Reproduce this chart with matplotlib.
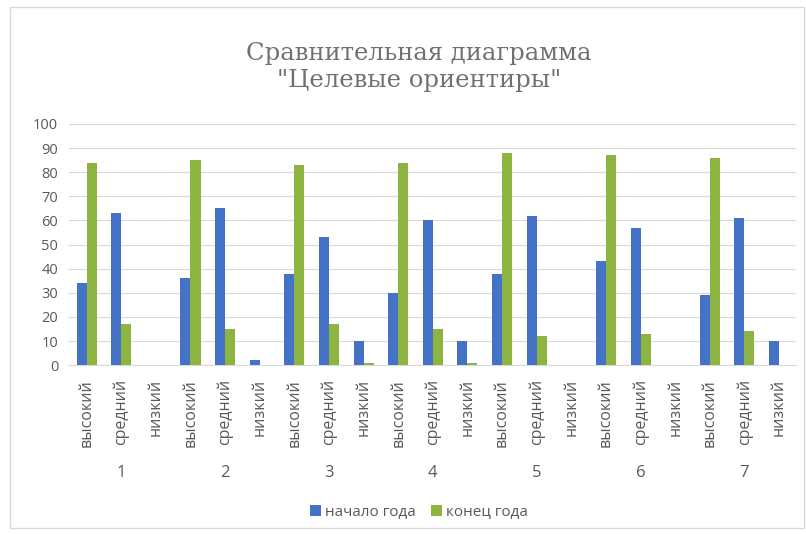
import matplotlib
matplotlib.use("Agg")
import matplotlib.pyplot as plt
import numpy as np

plt.rcParams["font.family"] = ["Open Sans", "DejaVu Sans"]

groups = ["1", "2", "3", "4", "5", "6", "7"]
levels = ["высокий", "средний", "низкий"]
start_year = [34, 63, 0, 36, 65, 2, 38, 53, 10, 30, 60, 10, 38, 62, 0, 43, 57, 0, 29, 61, 10]
end_year = [84, 17, 0, 85, 15, 0, 83, 17, 1, 84, 15, 1, 88, 12, 0, 87, 13, 0, 86, 14, 0]

BLUE = "#4472C4"
GREEN = "#8DB440"
TXT = "#595959"

fig = plt.figure(figsize=(8.06, 5.34), dpi=100)
ax = fig.add_axes([0.086, 0.316, 0.902, 0.452])

n = len(start_year)
x = np.arange(n)
w = 0.29
ax.bar(x - w / 2, start_year, w, color=BLUE, label="начало года", zorder=3)
ax.bar(x + w / 2, end_year, w, color=GREEN, label="конец года", zorder=3)

ax.set_xlim(-0.5, n - 0.5)
ax.set_ylim(0, 100)
ax.set_yticks(range(0, 101, 10))
ax.grid(axis="y", color="#d9d9d9", linewidth=0.8, zorder=0)
for s in ax.spines.values():
    s.set_visible(False)
ax.spines["bottom"].set_visible(True)
ax.spines["bottom"].set_color("#d9d9d9")
ax.tick_params(axis="y", length=0, labelsize=10.5, colors=TXT, pad=8)
ax.tick_params(axis="x", length=0, labelsize=11.5, colors=TXT, pad=10)

ax.set_xticks(x)
ax.set_xticklabels(levels * len(groups), rotation=90)

for i, g in enumerate(groups):
    ax.text(i * 3 + 1, -44.5, g, ha="center", va="center", fontsize=12,
            color=TXT, transform=ax.transData, clip_on=False)

fig.text(0.52, 0.90, "Сравнительная диаграмма", ha="center", va="center",
         fontsize=17.5, color="#707070", family="DejaVu Serif")
fig.text(0.52, 0.849, "\"Целевые ориентиры\"", ha="center", va="center",
         fontsize=17.5, color="#707070", family="DejaVu Serif")

leg = fig.legend(loc="center", bbox_to_anchor=(0.52, 0.041), ncol=2, frameon=False,
                 fontsize=11, handlelength=0.7, handleheight=0.7, columnspacing=1.0,
                 handletextpad=0.3)
for t in leg.get_texts():
    t.set_color(TXT)

fig.patches.append(plt.Rectangle((0.012, 0.012), 0.985, 0.975, transform=fig.transFigure,
                                 fill=False, edgecolor="#d9d9d9", linewidth=1))

fig.savefig("out.png", dpi=100)
